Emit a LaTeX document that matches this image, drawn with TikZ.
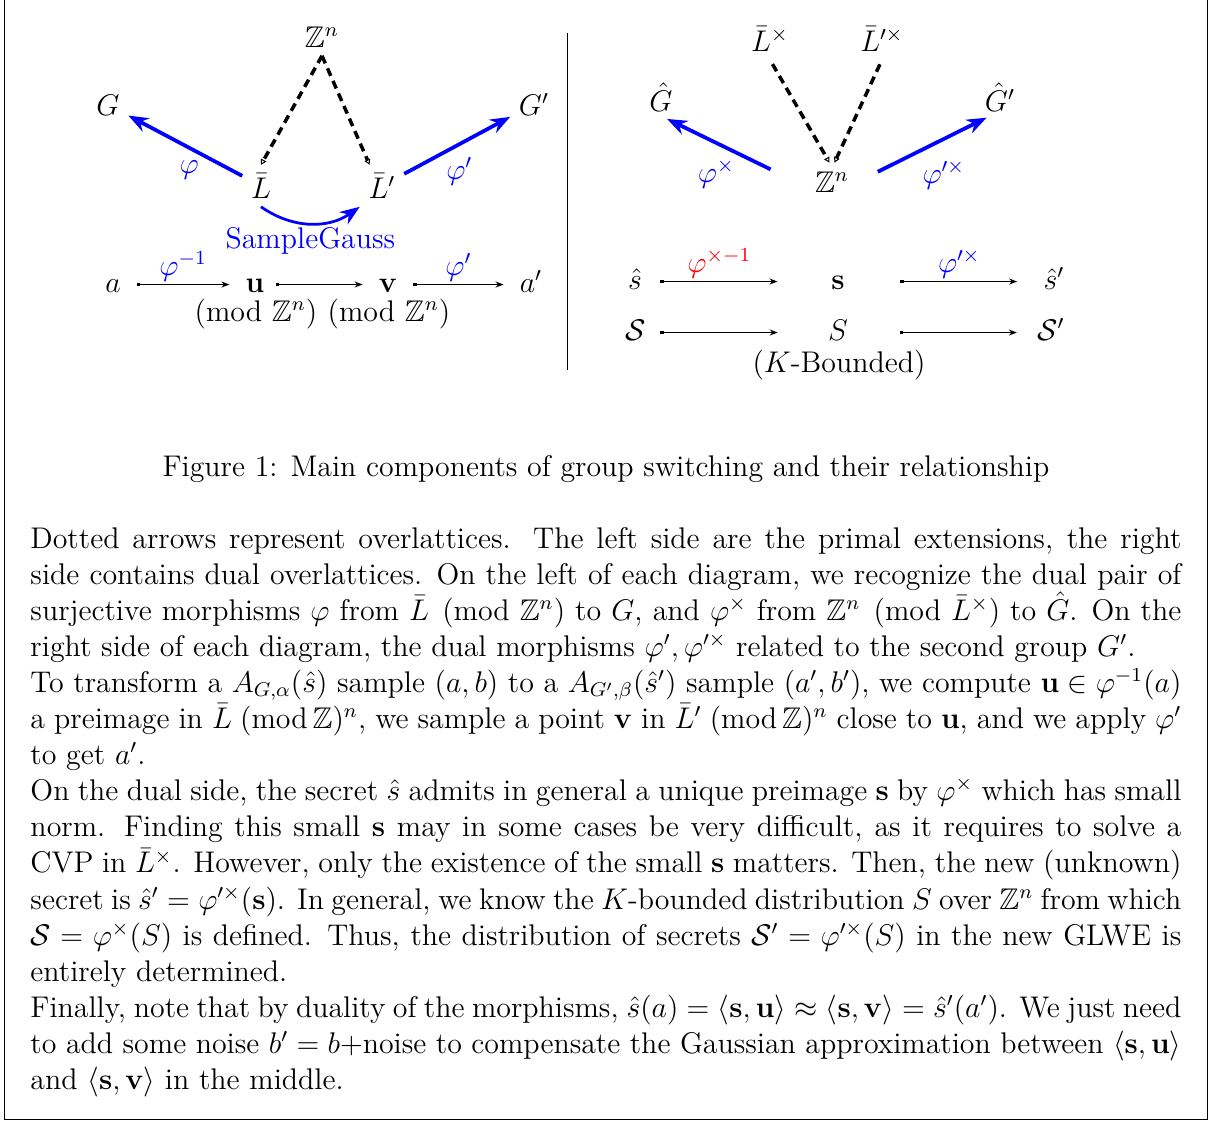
\documentclass[tikz,border=0pt,12pt]{standalone}
\usepackage{amsmath,amssymb}
\usepackage{tikz}
\usepackage{xcolor}
\usetikzlibrary{arrows.meta,positioning}
\definecolor{mapblue}{RGB}{0,0,255}
\definecolor{mapred}{RGB}{255,0,0}

\begin{document}
\begin{tikzpicture}[
    x=0.4016pt, y=0.4016pt,
    lat/.style={anchor=base,inner sep=3.33pt},
    row/.style={lat,text height=8.4pt,text depth=2.4pt},
    lbl/.style={inner sep=1pt},
    phiarr/.style={-{Stealth[length=8pt,width=6pt]},line width=1.5pt,mapblue},
    overl/.style={-{Triangle[open,length=2.2pt,width=2.4pt,line width=0.4pt]},
      line width=1.4pt,dash pattern=on 3.3pt off 2.2pt},
    maparr/.style={{Square[length=1.3pt,width=1.3pt]}-{Stealth[length=3.2pt,width=2.4pt]},
      line width=0.7pt,shorten <=3pt,shorten >=3pt}
  ]
    \useasboundingbox (0,0) rectangle (1211,-1122);

    \node[lat] (Zl) at (322,-47) {$\mathbb{Z}^n$};
    \node[lat] (G) at (108,-115) {$G$};
    \node[lat] (Gp) at (534,-115) {$G'$};
    \node[lat] (Lb) at (261,-198) {$\bar L$};
    \node[lat] (Lbp) at (382,-198) {$\bar L'$};
    \node[row] (a) at (113,-292) {$a$};
    \node[row] (u) at (255,-292) {$\mathbf{u}$};
    \node[row] (v) at (388,-292) {$\mathbf{v}$};
    \node[row] (ap) at (531,-292) {$a'$};
    \node[lat] (umod) at (256,-321) {(mod $\mathbb{Z}^n$)};
    \node[lat] (vmod) at (389,-321) {(mod $\mathbb{Z}^n$)};

    \node[lat] (Lx) at (770,-51) {$\bar L^\times$};
    \node[lat] (Lpx) at (882,-51) {$\bar L'^\times$};
    \node[lat] (Gh) at (661,-111) {$\hat G$};
    \node[lat] (Ghp) at (1000,-111) {$\hat G'$};
    \node[lat] (Zr) at (832,-192) {$\mathbb{Z}^n$};
    \node[row] (sh) at (635,-289) {$\hat s$};
    \node[row] (sb) at (838,-289) {$\mathbf{s}$};
    \node[row] (shp) at (1054,-289) {$\hat s'$};
    \node[row] (Sc) at (636,-340) {$\mathcal{S}$};
    \node[row] (Si) at (838,-340) {$S$};
    \node[row] (Scp) at (1051,-340) {$\mathcal{S}'$};
    \node[lat] (kb) at (839,-372) {($K$-Bounded)};

    \draw[overl] (Zl.south) -- (Lb.north);
    \draw[overl] (Zl.south) -- ([xshift=-5pt]Lbp.north);
    \draw[phiarr] (Lb) -- node[pos=0.4,below=2pt,lbl,xshift=-3pt] {$\varphi$} (G);
    \draw[phiarr] (Lbp) -- node[pos=0.45,below=2pt,lbl,xshift=3pt] {$\varphi'$} (Gp);
    \draw[phiarr,line width=1.1pt] (Lb.south) to[bend right=35]
      node[midway,below,lbl] {SampleGauss} (Lbp.south west);
    \draw[maparr] (a) -- node[above,lbl,mapblue] {$\varphi^{-1}$} (u);
    \draw[maparr,shorten <=1pt] (u) -- (v);
    \draw[maparr] (v) -- node[above,lbl,mapblue] {$\varphi'$} (ap);

    \draw[overl,shorten <=2pt] (Lx.south) -- ([xshift=-1pt]Zr.north);
    \draw[overl,shorten <=2pt] (Lpx.south) -- ([xshift=1pt]Zr.north);
    \draw[phiarr,shorten <=15.9pt,shorten >=2.7pt] ([yshift=-2pt]Zr.west) --
      node[pos=0.55,below=3pt,lbl,xshift=-4pt] {$\varphi^\times$} ([yshift=-2pt]Gh.base);
    \draw[phiarr,shorten <=9pt,shorten >=6pt] (Zr.east) --
      node[pos=0.5,below=4pt,lbl,xshift=6pt] {$\varphi'^\times$} (Ghp.base);
    \draw[maparr,shorten <=3.9pt,shorten >=18.1pt] (sh) --
      node[pos=0.4,above,lbl,mapred] {$\varphi^{\times -1}$} (sb);
    \draw[maparr,shorten <=18.9pt,shorten >=7.1pt] (sb) --
      node[pos=0.584,above,lbl,mapblue] {$\varphi'^\times$} (shp);
    \draw[maparr,shorten <=2.2pt,shorten >=16.7pt] (Sc) -- (Si);
    \draw[maparr,shorten <=17.5pt,shorten >=4.7pt] (Si) -- (Scp);

    \draw (567,-33) -- (567,-370);

    \node[lat] (cap) at (606,-476)
      {Figure 1: Main components of group switching and their relationship};

    \node[anchor=base west,inner sep=0] (body) at (30,-548) {\begin{minipage}[t]{462.2pt}
    Dotted arrows represent overlattices.  The left side are the primal extensions, the right\linebreak
    side contains dual overlattices. On the left of each diagram, we recognize the dual pair of\linebreak
    surjective morphisms $\varphi$ from $\bar L \pmod{\mathbb{Z}^n}$ to $G$, and $\varphi^\times$ from $\mathbb{Z}^n \pmod{\bar L^\times}$ to $\hat G$. On the\linebreak
    right side of each diagram, the dual morphisms $\varphi',\varphi'^\times$ related to the second group $G'$.\par
    To transform a $A_{G,\alpha}(\hat s)$ sample $(a,b)$ to a $A_{G',\beta}(\hat s')$ sample $(a',b')$, we compute $\mathbf{u}\in\varphi^{-1}(a)$\linebreak
    a preimage in $\bar L\;(\mathrm{mod}\,\mathbb{Z})^n$, we sample a point $\mathbf{v}$ in $\bar L'\;(\mathrm{mod}\,\mathbb{Z})^n$ close to $\mathbf{u}$, and we apply $\varphi'$\linebreak
    to get $a'$.\par
    On the dual side, the secret $\hat s$ admits in general a unique preimage $\mathbf{s}$ by $\varphi^\times$ which has small\linebreak
    norm.  Finding this small $\mathbf{s}$ may in some cases be very difficult, as it requires to solve a\linebreak
    CVP in $\bar L^\times$. However, only the existence of the small $\mathbf{s}$ matters. Then, the new (unknown)\linebreak
    secret is $\hat s' = \varphi'^\times(\mathbf{s})$. In general, we know the $K$-bounded distribution $S$ over $\mathbb{Z}^n$ from which\linebreak
    $\mathcal{S} = \varphi^\times(S)$ is defined. Thus, the distribution of secrets $\mathcal{S}' = \varphi'^\times(S)$ in the new GLWE is\linebreak
    entirely determined.\par
    Finally, note that by duality of the morphisms, $\hat s(a) = \langle \mathbf{s},\mathbf{u}\rangle \approx \langle \mathbf{s},\mathbf{v}\rangle = \hat s'(a')$. We just need\linebreak
    to add some noise $b' = b$+noise to compensate the Gaussian approximation between $\langle\mathbf{s},\mathbf{u}\rangle$\linebreak
    and $\langle\mathbf{s},\mathbf{v}\rangle$ in the middle.
    \end{minipage}};

    \draw (4.5,0) -- (4.5,-1119.5) -- (1207.5,-1119.5) -- (1207.5,0);
  \end{tikzpicture}
\end{document}
